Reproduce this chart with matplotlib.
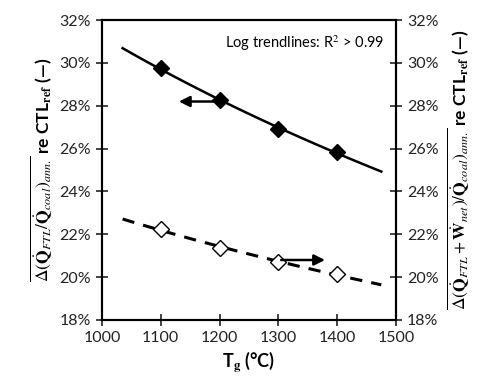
import numpy as np
import matplotlib
matplotlib.use('Agg')
import matplotlib.pyplot as plt
from matplotlib.ticker import PercentFormatter

# Data
tg = [1100, 1200, 1300, 1400]
q_ftl = [29.75, 28.25, 26.9, 25.85]      # left axis, filled diamonds
q_ftl_wnet = [22.25, 21.35, 20.7, 20.15]  # right axis, open diamonds
x_fit = np.linspace(1035, 1475, 100)

plt.rcParams['font.family'] = ['Lato', 'DejaVu Sans']
plt.rcParams['mathtext.fontset'] = 'stix'

fig = plt.figure(figsize=(4.8, 3.8), dpi=100)
ax = fig.add_axes([0.2125, 0.158, 0.6125, 0.789])
ax2 = ax.twinx()

# log trendlines
c1 = np.polyfit(np.log(tg), q_ftl, 1)
c2 = np.polyfit(np.log(tg), q_ftl_wnet, 1)
ax.plot(x_fit, np.polyval(c1, np.log(x_fit)), color='black', lw=1.8)
ax.plot(tg, q_ftl, 'D', color='black', ms=8)
ax2.plot(x_fit, np.polyval(c2, np.log(x_fit)), color='black', lw=2.2, ls=(0, (4, 3)))
ax2.plot(tg, q_ftl_wnet, 'D', mfc='white', mec='black', ms=8, mew=1)

for a in (ax, ax2):
    a.set_xlim(1000, 1500)
    a.set_ylim(18, 32)
    a.set_yticks(range(18, 33, 2))
    a.yaxis.set_major_formatter(PercentFormatter(decimals=0))
    a.tick_params(direction='inout', length=9, width=1.2, labelsize=11.5, colors='#222222')
    for s in a.spines.values():
        s.set_linewidth(1.5)
ax.set_xticks(range(1000, 1501, 100))

ax.annotate('', xy=(1126, 28.2), xytext=(1200, 28.2),
            arrowprops=dict(arrowstyle='-|>', color='black', lw=1.8, mutation_scale=16))
ax2.annotate('', xy=(1384, 20.8), xytext=(1300, 20.8),
             arrowprops=dict(arrowstyle='-|>', color='black', lw=1.8, mutation_scale=16))

ax.text(0.96, 0.955, 'Log trendlines: R$^2$ > 0.99', transform=ax.transAxes,
        ha='right', va='top', fontsize=10.5)

ax.set_xlabel(r'T$_\mathsf{\mathbf{g}}$ (°C)', fontsize=13, fontweight='bold', labelpad=3)
ax.set_ylabel(r'$\overline{\Delta(\dot{\mathbf{Q}}_{FTL}/\dot{\mathbf{Q}}_{coal})_{ann.}}$ '
              r're CTL$_\mathsf{\mathbf{ref}}$ (—)',
              fontsize=12.5, fontweight='bold', labelpad=3)
ax2.set_ylabel(r'$\overline{\Delta(\dot{\mathbf{Q}}_{FTL}+\dot{\mathbf{W}}_{net})/\dot{\mathbf{Q}}_{coal})_{ann.}}$ '
               r're CTL$_\mathsf{\mathbf{ref}}$ (—)',
               fontsize=12.5, fontweight='bold', labelpad=5)

fig.savefig('out.png', dpi=100)
